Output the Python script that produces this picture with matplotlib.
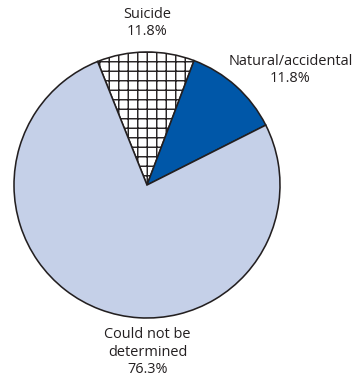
import matplotlib
matplotlib.use("Agg")
import matplotlib.pyplot as plt

categories = ["Suicide", "Natural/accidental", "Could not be\ndetermined"]
values = [11.8, 11.8, 76.3]
pct_labels = ["11.8%", "11.8%", "76.3%"]

colors = ["white", "#0057A8", "#C5D0E8"]
hatches = ["++", "", ""]

W, H = 357, 386
DPI = 114
plt.rcParams['hatch.linewidth'] = 0.9
plt.rcParams['hatch.color'] = '#231F20'
fig = plt.figure(figsize=(W / DPI, H / DPI), dpi=DPI)
ax = fig.add_axes([0, 0, 1, 1])

cx, cy, r = 147, 185, 133
wedges, _ = ax.pie(values, colors=colors, startangle=-111.8, counterclock=True,
                   center=(cx, cy), radius=r, frame=True,
                   wedgeprops=dict(edgecolor="#231F20", linewidth=1.0))
for w, h in zip(wedges, hatches):
    w.set_hatch(h)
ax.set_xlim(0, W)
ax.set_ylim(H, 0)
ax.set_aspect("equal")
ax.axis("off")

font = dict(family="Open Sans", fontsize=9.2, color="#231F20", ha="center",
            va="center", linespacing=1.22)
ax.text(147.5, 23, categories[0] + "\n" + pct_labels[0], **font)
ax.text(290.5, 70, categories[1] + "\n" + pct_labels[1], **font)
ax.text(147.5, 352, categories[2] + "\n" + pct_labels[2], **font)

fig.savefig("out.png", dpi=DPI)
